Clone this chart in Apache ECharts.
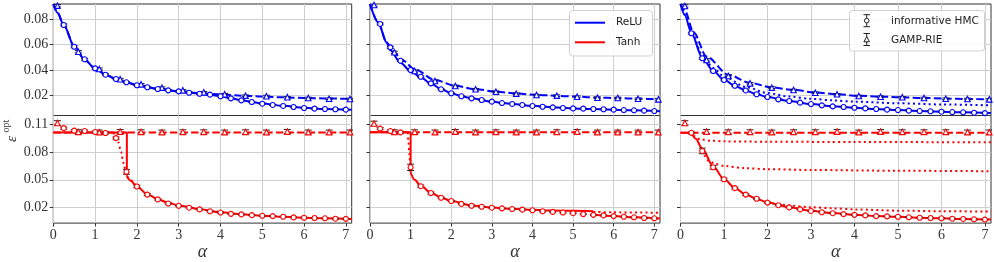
<!DOCTYPE html>
<html><head><meta charset="utf-8">
<script src="https://cdn.jsdelivr.net/npm/echarts@6/dist/echarts.min.js"></script>
<style>html,body{margin:0;padding:0;background:#fff}#c{width:994px;height:262px}</style>
</head><body><div id="c"></div>
<script>
// ---------- tick labels ----------
const xTicks = [0, 1, 2, 3, 4, 5, 6, 7];
const yTicksTop = [0.02, 0.04, 0.06, 0.08];
const yTicksBot = [0.02, 0.05, 0.08, 0.11];

// ---------- marker positions ----------
const hmcAlpha = [0.25,0.5,0.75,1,1.25,1.5,1.75,2,2.25,2.5,2.75,3,3.25,3.5,3.75,4,4.25,4.5,4.75,5,5.25,5.5,5.75,6,6.25,6.5,6.75,7];
const gampAlpha = [0.1,0.6,1.1,1.6,2.1,2.6,3.1,3.6,4.1,4.6,5.1,5.6,6.1,6.6,7.1];

// ---------- panel 1 (left) ----------
const hmc1T = [0.0753,0.0582,0.0483,0.0412,0.0362,0.0328,0.0302,0.0279,0.0263,0.0249,0.0239,0.0231,0.0220,0.0212,0.0205,0.0192,0.0176,0.0160,0.0147,0.0134,0.0124,0.0116,0.0108,0.0100,0.0095,0.0092,0.0090,0.0087];
const hmc1TErr = [0.0008,0.0008,0.0007,0.0006,0.0005,0.0005,0.0005,0.0004,0.0004,0.0004,0.0004,0.0004,0.0004,0.0004,0.0004,0.0004,0.0004,0.0004,0.0004,0.0004,0.0004,0.0004,0.0004,0.0004,0.0004,0.0004,0.0004,0.0004];
const gamp1T = [0.0905,0.0543,0.0407,0.0326,0.0286,0.0260,0.0239,0.0223,0.0208,0.0197,0.0192,0.0184,0.0179,0.0173,0.0171];
const gamp1TErr = [0.0010,0.0009,0.0008,0.0007,0.0007,0.0006,0.0006,0.0006,0.0006,0.0006,0.0008,0.0006,0.0006,0.0006,0.0006];
const solid1T = [[0,0.0918],[0.1,0.085],[0.25,0.0753],[0.5,0.0585],[0.75,0.048],[1,0.0411],[1.25,0.0362],[1.5,0.0328],[1.75,0.0302],[2,0.028],[2.5,0.025],[3,0.023],[3.5,0.0213],[3.75,0.0205],[4,0.0193],[4.25,0.0177],[4.5,0.0161],[4.75,0.0148],[5,0.0136],[5.5,0.0117],[6,0.0101],[6.5,0.0093],[7.14,0.0087]];
const dashed1T = [[0,0.0918],[0.1,0.085],[0.25,0.0753],[0.5,0.0585],[0.75,0.048],[1,0.0411],[1.25,0.0362],[1.5,0.0328],[1.75,0.0302],[2,0.028],[2.5,0.0252],[3,0.0232],[3.5,0.0217],[4,0.0206],[4.5,0.0197],[5,0.019],[5.5,0.0184],[6,0.0179],[6.5,0.0175],[7.14,0.0171]];
const hmc1B = [0.1055,0.1028,0.1024,0.1013,0.1003,0.0948,0.0586,0.0428,0.0341,0.0289,0.0245,0.0221,0.0200,0.0182,0.0162,0.0148,0.0134,0.0128,0.0120,0.0113,0.0110,0.0103,0.0096,0.0092,0.0089,0.0086,0.0082,0.0080];
const hmc1BErr = [0.0012,0.0010,0.0010,0.0010,0.0010,0.0012,0.0026,0.0012,0.0010,0.0008,0.0006,0.0005,0.0005,0.0005,0.0005,0.0005,0.0005,0.0005,0.0005,0.0005,0.0005,0.0005,0.0005,0.0005,0.0005,0.0005,0.0005,0.0005];
const gamp1B = [0.1110,0.1015,0.1012,0.1018,0.1015,0.1012,0.1015,0.1015,0.1012,0.1015,0.1012,0.1018,0.1012,0.1012,0.1012];
const gamp1BErr = [0.0025,0.0022,0.0022,0.0022,0.0022,0.0022,0.0022,0.0022,0.0022,0.0022,0.0022,0.0022,0.0022,0.0022,0.0022];
const step1B = [[0,0.1007],[1.76,0.1007],[1.76,0.0545]];
const solid1B = [[1.76,0.0545],[1.85,0.049],[2,0.0428],[2.25,0.0345],[2.5,0.0292],[2.75,0.0252],[3,0.0224],[3.5,0.0184],[4,0.0152],[4.5,0.013],[5,0.0114],[5.5,0.0102],[6,0.0093],[6.5,0.0086],[7.14,0.0079]];
const dashed1B = [[0,0.1007],[7.14,0.1007]];
const dotted1B = [[1.44,0.1007],[1.5,0.097],[1.56,0.09],[1.62,0.08],[1.68,0.068],[1.74,0.057],[1.8,0.051],[2,0.0428]];

// ---------- panel 2 (middle) ----------
const hmc2T = [0.0761,0.0577,0.0472,0.0399,0.0346,0.0294,0.0247,0.0216,0.0192,0.0176,0.0163,0.0150,0.0139,0.0132,0.0124,0.0116,0.0110,0.0105,0.0100,0.0097,0.0095,0.0092,0.0090,0.0087,0.0084,0.0082,0.0079,0.0076];
const hmc2TErr = [0.0008,0.0008,0.0007,0.0006,0.0005,0.0005,0.0005,0.0004,0.0004,0.0004,0.0004,0.0004,0.0004,0.0004,0.0004,0.0004,0.0004,0.0004,0.0004,0.0004,0.0004,0.0004,0.0004,0.0004,0.0004,0.0004,0.0004,0.0004];
const gamp2T = [0.0910,0.0538,0.0391,0.0312,0.0273,0.0247,0.0228,0.0213,0.0202,0.0197,0.0189,0.0181,0.0179,0.0173,0.0168];
const gamp2TErr = [0.0010,0.0009,0.0008,0.0007,0.0007,0.0006,0.0006,0.0006,0.0006,0.0006,0.0006,0.0006,0.0006,0.0006,0.0006];
const solid2T = [[0,0.0918],[0.2,0.0775],[0.41,0.0615],[0.5,0.0555],[0.75,0.0455],[1,0.039],[1.25,0.034],[1.5,0.0293],[1.75,0.0250],[2,0.0217],[2.25,0.0193],[2.5,0.0176],[3,0.015],[3.5,0.0132],[4,0.0117],[4.5,0.0105],[5,0.0097],[5.5,0.0092],[6,0.0087],[6.5,0.0082],[7.14,0.0075]];
const dashed2T = [[0,0.0918],[0.2,0.0775],[0.41,0.0615],[0.6,0.0535],[0.8,0.0475],[1.1,0.0405],[1.6,0.032],[2.1,0.0275],[2.6,0.0248],[3.1,0.0229],[3.6,0.0214],[4.1,0.0203],[4.6,0.0196],[5.1,0.0189],[5.6,0.0182],[6.1,0.0178],[6.6,0.0173],[7.14,0.0168]];
const hmc2B = [0.1050,0.1024,0.1010,0.0634,0.0431,0.0358,0.0307,0.0272,0.0241,0.0221,0.0210,0.0200,0.0193,0.0186,0.0179,0.0172,0.0162,0.0155,0.0148,0.0141,0.0131,0.0123,0.0117,0.0110,0.0103,0.0097,0.0089,0.0086];
const hmc2BErr = [0.0012,0.0010,0.0010,0.0034,0.0012,0.0010,0.0008,0.0006,0.0005,0.0005,0.0005,0.0005,0.0005,0.0005,0.0005,0.0005,0.0005,0.0005,0.0005,0.0005,0.0005,0.0005,0.0005,0.0005,0.0005,0.0005,0.0005,0.0005];
const gamp2B = [0.1105,0.1015,0.1015,0.1012,0.1018,0.1012,0.1015,0.1012,0.1012,0.1015,0.1018,0.1012,0.1012,0.1012,0.1012];
const gamp2BErr = [0.0025,0.0022,0.0022,0.0022,0.0022,0.0022,0.0022,0.0022,0.0022,0.0022,0.0022,0.0022,0.0022,0.0022,0.0022];
const step2B = [[0,0.1010],[1.0,0.1010],[1.0,0.058]];
const solid2B = [[1.0,0.058],[1.1,0.05],[1.25,0.0435],[1.5,0.036],[1.75,0.031],[2,0.0272],[2.5,0.0225],[3,0.0202],[3.5,0.0188],[4,0.0177],[4.5,0.0170],[5,0.0166],[5.5,0.0163]];
const solid2Btail = [[5.5,0.0123],[6,0.0110],[6.5,0.0097],[7.14,0.0085]];
const dashed2B = [[0,0.1010],[7.14,0.1010]];
const dotted2B = [[0.93,0.1010],[0.95,0.09],[0.97,0.078],[0.99,0.066],[1.0,0.058]];
const dotted2Btail = [[5.5,0.0155],[6,0.0150],[7.14,0.0146]];

// ---------- panel 3 (right) ----------
const hmc3T = [0.0688,0.0491,0.0391,0.0320,0.0275,0.0238,0.0208,0.0186,0.0168,0.0155,0.0142,0.0131,0.0121,0.0113,0.0108,0.0102,0.0097,0.0092,0.0087,0.0084,0.0079,0.0076,0.0074,0.0071,0.0068,0.0066,0.0063,0.0060];
const hmc3TErr = [0.0008,0.0008,0.0007,0.0006,0.0005,0.0005,0.0005,0.0004,0.0004,0.0004,0.0004,0.0004,0.0004,0.0004,0.0004,0.0004,0.0004,0.0004,0.0004,0.0004,0.0004,0.0004,0.0004,0.0004,0.0004,0.0004,0.0004,0.0004];
const gamp3T = [0.0902,0.0478,0.0352,0.0294,0.0260,0.0242,0.0220,0.0208,0.0194,0.0189,0.0184,0.0179,0.0173,0.0171,0.0168];
const gamp3TErr = [0.0010,0.0009,0.0008,0.0007,0.0007,0.0006,0.0006,0.0006,0.0006,0.0006,0.0006,0.0006,0.0006,0.0006,0.0006];
const solid3T = [[0,0.0918],[0.1,0.083],[0.25,0.069],[0.5,0.0495],[0.75,0.0392],[1,0.0322],[1.25,0.0274],[1.5,0.0238],[1.75,0.0208],[2,0.0186],[2.5,0.0155],[3,0.0131],[3.5,0.0114],[4,0.0102],[4.5,0.0092],[5,0.0084],[5.5,0.0077],[6,0.0071],[6.5,0.0066],[7.14,0.006]];
const dotted3T = [[0,0.0918],[0.1,0.0835],[0.25,0.0705],[0.5,0.0515],[0.75,0.0415],[1,0.0348],[1.5,0.0265],[2,0.0218],[2.5,0.019],[3,0.0172],[3.5,0.016],[4,0.015],[5,0.0137],[6,0.0128],[7.14,0.0121]];
const dashed3T = [[0,0.0918],[0.1,0.0865],[0.3,0.0695],[0.6,0.0505],[1.1,0.0362],[1.6,0.0298],[2.1,0.0262],[2.6,0.0242],[3.1,0.0222],[3.6,0.0208],[4.1,0.0196],[4.6,0.0189],[5.1,0.0184],[5.6,0.0179],[6.1,0.0174],[6.6,0.0171],[7.14,0.0167]];
const hmc3B = [0.1005,0.0810,0.0634,0.0506,0.0410,0.0341,0.0296,0.0255,0.0227,0.0203,0.0182,0.0165,0.0151,0.0141,0.0131,0.0123,0.0117,0.0110,0.0107,0.0103,0.0097,0.0092,0.0089,0.0086,0.0082,0.0079,0.0076,0.0072];
const hmc3BErr = [0.0010,0.0030,0.0020,0.0012,0.0010,0.0008,0.0006,0.0005,0.0005,0.0005,0.0005,0.0005,0.0005,0.0005,0.0005,0.0005,0.0005,0.0005,0.0005,0.0005,0.0005,0.0005,0.0005,0.0005,0.0005,0.0005,0.0005,0.0005];
const gamp3B = [0.1110,0.1018,0.1015,0.1015,0.1012,0.1015,0.1015,0.1018,0.1012,0.1018,0.1015,0.1015,0.1015,0.1012,0.1012];
const gamp3BErr = [0.0025,0.0022,0.0022,0.0022,0.0022,0.0022,0.0022,0.0022,0.0022,0.0022,0.0022,0.0022,0.0022,0.0022,0.0022];
const solid3B = [[0,0.1005],[0.15,0.1005],[0.25,0.099],[0.35,0.094],[0.5,0.0835],[0.75,0.0645],[1,0.0508],[1.25,0.0412],[1.5,0.0343],[1.75,0.0294],[2,0.0257],[2.5,0.0205],[3,0.0167],[3.5,0.0142],[4,0.0124],[4.5,0.0111],[5,0.0102],[5.5,0.0093],[6,0.0086],[6.5,0.0079],[7.14,0.0072]];
const dashed3B = [[0,0.1005],[7.14,0.1005]];
const dotted3Ba = [[0.2,0.1005],[0.3,0.097],[0.45,0.0935],[0.7,0.092],[1,0.0913],[2,0.0909],[4,0.0906],[7.14,0.0903]];
const dotted3Bb = [[0.55,0.0765],[0.65,0.0705],[0.8,0.067],[1.0,0.0648],[1.5,0.0625],[2,0.0614],[3,0.0605],[5,0.0597],[7.14,0.0592]];
const dotted3Bc = [[2.0,0.0257],[2.25,0.0237],[2.5,0.0223],[3,0.0205],[3.5,0.0193],[4,0.0182],[5,0.0168],[6,0.0162],[7.14,0.0158]];

// ---------- layout ----------
const BLUE = '#0000ff', RED = '#ff0000';
const colLeft = [53.3, 370, 680.5];
const colWidth = [298.4, 290, 310.5];
const rowTop = [4, 115.5];
const rowHeight = [111.5, 111.8];
const yRange = [[0.0041, 0.0918], [0.00345, 0.1191]];
const X_MAX = 7.14;
const serif = '"Liberation Serif", "DejaVu Serif", serif';
const sans = '"DejaVu Sans", sans-serif';

const grids = [], xAxes = [], yAxes = [], series = [];
for (let r = 0; r < 2; r++) {
  for (let c = 0; c < 3; c++) {
    const gi = grids.length;
    grids.push({left: colLeft[c], top: rowTop[r], width: colWidth[c], height: rowHeight[r],
      show: true, borderColor: '#333', borderWidth: 1, backgroundColor: 'transparent', containLabel: false});
    xAxes.push({type: 'value', gridIndex: gi, min: 0, max: X_MAX,
      axisLine: {show: false},
      axisTick: {show: r === 1, inside: false, length: 3.5, customValues: xTicks, lineStyle: {color: '#333'}},
      axisLabel: {show: r === 1, customValues: xTicks, fontFamily: serif, fontSize: 14, color: '#333', margin: 5},
      splitLine: {show: true, lineStyle: {color: '#cfcfcf', width: 1}},
      name: r === 1 ? 'α' : '', nameLocation: 'middle', nameGap: 17,
      nameTextStyle: {fontFamily: serif, fontStyle: 'italic', fontSize: 18, color: '#333'}});
    const yt = r === 0 ? yTicksTop : yTicksBot;
    yAxes.push({type: 'value', gridIndex: gi, min: yRange[r][0], max: yRange[r][1],
      axisLine: {show: false},
      axisTick: {show: true, inside: false, length: 3.5, customValues: yt, lineStyle: {color: '#333'}},
      axisLabel: {show: c === 0, customValues: yt, fontFamily: serif, fontSize: 14, color: '#333', margin: 5,
        formatter: v => String(+v.toFixed(2))},
      splitLine: {show: true, lineStyle: {color: '#cfcfcf', width: 1}}});
  }
}

function addLine(gi, data, color, kind, smooth) {
  const dash = kind === 'dashed' ? [7.4, 3.2] : kind === 'dotted' ? [2, 3.2] : 'solid';
  series.push({type: 'line', xAxisIndex: gi, yAxisIndex: gi, data: data, showSymbol: false, symbol: 'none',
    smooth: smooth ? 0.3 : false, smoothMonotone: smooth ? 'x' : undefined, z: 2, silent: true,
    lineStyle: {color: color, width: 2, type: dash, cap: 'butt'}});
}
function errRender(params, api) {
  const x = api.value(0), y = api.value(1), e = api.value(2);
  const p1 = api.coord([x, y + e]), p2 = api.coord([x, y - e]);
  const w = 3.5, st = {stroke: '#222', lineWidth: 1};
  return {type: 'group', children: [
    {type: 'line', shape: {x1: p1[0], y1: p1[1], x2: p2[0], y2: p2[1]}, style: st},
    {type: 'line', shape: {x1: p1[0] - w, y1: p1[1], x2: p1[0] + w, y2: p1[1]}, style: st},
    {type: 'line', shape: {x1: p2[0] - w, y1: p2[1], x2: p2[0] + w, y2: p2[1]}, style: st}]};
}
function addMarkers(gi, xs, ys, errs, color, symbol, size) {
  series.push({type: 'custom', xAxisIndex: gi, yAxisIndex: gi, renderItem: errRender, clip: true, z: 3, silent: true,
    encode: {x: 0, y: 1}, data: xs.map((x, i) => [x, ys[i], errs[i]])});
  series.push({type: 'scatter', xAxisIndex: gi, yAxisIndex: gi, symbol: symbol, symbolSize: size, z: 4, silent: true, clip: true,
    itemStyle: {color: '#fff', borderColor: color, borderWidth: 1.1, opacity: 1},
    data: xs.map((x, i) => [x, ys[i]])});
}

// panel 1
addLine(0, solid1T, BLUE, 'solid', true); addLine(0, dashed1T, BLUE, 'dashed', true);
addMarkers(0, gampAlpha, gamp1T, gamp1TErr, BLUE, 'triangle', 5.5);
addMarkers(0, hmcAlpha, hmc1T, hmc1TErr, BLUE, 'circle', 5);
addLine(3, dashed1B, RED, 'dashed', false); addLine(3, dotted1B, RED, 'dotted', true);
addLine(3, step1B, RED, 'solid', false); addLine(3, solid1B, RED, 'solid', true);
addMarkers(3, gampAlpha, gamp1B, gamp1BErr, RED, 'triangle', 5.5);
addMarkers(3, hmcAlpha, hmc1B, hmc1BErr, RED, 'circle', 5);
// panel 2
addLine(1, solid2T, BLUE, 'solid', true); addLine(1, dashed2T, BLUE, 'dashed', true);
addMarkers(1, gampAlpha, gamp2T, gamp2TErr, BLUE, 'triangle', 5.5);
addMarkers(1, hmcAlpha, hmc2T, hmc2TErr, BLUE, 'circle', 5);
addLine(4, dashed2B, RED, 'dashed', false); addLine(4, dotted2B, RED, 'dotted', true); addLine(4, dotted2Btail, RED, 'dotted', true);
addLine(4, step2B, RED, 'solid', false); addLine(4, solid2B, RED, 'solid', true); addLine(4, solid2Btail, RED, 'solid', true);
addMarkers(4, gampAlpha, gamp2B, gamp2BErr, RED, 'triangle', 5.5);
addMarkers(4, hmcAlpha, hmc2B, hmc2BErr, RED, 'circle', 5);
// panel 3
addLine(2, dotted3T, BLUE, 'dotted', true); addLine(2, solid3T, BLUE, 'solid', true); addLine(2, dashed3T, BLUE, 'dashed', true);
addMarkers(2, gampAlpha, gamp3T, gamp3TErr, BLUE, 'triangle', 5.5);
addMarkers(2, hmcAlpha, hmc3T, hmc3TErr, BLUE, 'circle', 5);
addLine(5, dashed3B, RED, 'dashed', false);
addLine(5, dotted3Ba, RED, 'dotted', true); addLine(5, dotted3Bb, RED, 'dotted', true); addLine(5, dotted3Bc, RED, 'dotted', true);
addLine(5, solid3B, RED, 'solid', true);
addMarkers(5, gampAlpha, gamp3B, gamp3BErr, RED, 'triangle', 5.5);
addMarkers(5, hmcAlpha, hmc3B, hmc3BErr, RED, 'circle', 5);

// ---------- legends & y title (graphic) ----------
const capStyle = {stroke: '#222', lineWidth: 1};
const graphic = [
  {type: 'rect', shape: {x: 569.5, y: 10.5, width: 83, height: 45.5, r: 3}, style: {fill: 'rgba(255,255,255,0.85)', stroke: '#d0d0d0', lineWidth: 1}, z: 10},
  {type: 'line', shape: {x1: 575, y1: 22.7, x2: 605, y2: 22.7}, style: {stroke: BLUE, lineWidth: 2}, z: 11},
  {type: 'text', x: 616, y: 22.7, style: {text: 'ReLU', fontFamily: sans, fontSize: 10.5, fill: '#222', verticalAlign: 'middle'}, z: 11},
  {type: 'line', shape: {x1: 575, y1: 42.3, x2: 605, y2: 42.3}, style: {stroke: RED, lineWidth: 2}, z: 11},
  {type: 'text', x: 616, y: 42.3, style: {text: 'Tanh', fontFamily: sans, fontSize: 10.5, fill: '#222', verticalAlign: 'middle'}, z: 11},

  {type: 'rect', shape: {x: 849.5, y: 10.5, width: 135, height: 40.5, r: 3}, style: {fill: 'rgba(255,255,255,0.85)', stroke: '#d0d0d0', lineWidth: 1}, z: 10},
  {type: 'line', shape: {x1: 866.7, y1: 14.7, x2: 866.7, y2: 26.7}, style: capStyle, z: 11},
  {type: 'line', shape: {x1: 863.5, y1: 14.7, x2: 870, y2: 14.7}, style: capStyle, z: 11},
  {type: 'line', shape: {x1: 863.5, y1: 26.7, x2: 870, y2: 26.7}, style: capStyle, z: 11},
  {type: 'circle', shape: {cx: 866.7, cy: 20.7, r: 2.3}, style: {fill: '#fff', stroke: '#222', lineWidth: 1}, z: 12},
  {type: 'text', x: 891, y: 21.2, style: {text: 'informative HMC', fontFamily: sans, fontSize: 10.5, fill: '#222', verticalAlign: 'middle'}, z: 11},
  {type: 'line', shape: {x1: 866.7, y1: 33.5, x2: 866.7, y2: 45.5}, style: capStyle, z: 11},
  {type: 'line', shape: {x1: 863.5, y1: 33.5, x2: 870, y2: 33.5}, style: capStyle, z: 11},
  {type: 'line', shape: {x1: 863.5, y1: 45.5, x2: 870, y2: 45.5}, style: capStyle, z: 11},
  {type: 'polygon', shape: {points: [[866.7, 36.6], [869.5, 41.8], [863.9, 41.8]]}, style: {fill: '#fff', stroke: '#222', lineWidth: 1}, z: 12},
  {type: 'text', x: 891, y: 39.8, style: {text: 'GAMP-RIE', fontFamily: sans, fontSize: 10.5, fill: '#222', verticalAlign: 'middle'}, z: 11},

  {type: 'text', x: 12, y: 139, rotation: Math.PI / 2, style: {text: 'ε', fontFamily: serif, fontStyle: 'italic', fontSize: 15, fill: '#333', align: 'center', verticalAlign: 'middle'}},
  {type: 'text', x: 6, y: 126, rotation: Math.PI / 2, style: {text: 'opt', fontFamily: serif, fontSize: 10, fill: '#333', align: 'center', verticalAlign: 'middle'}}
];

const chart = echarts.init(document.getElementById('c'), null, {renderer: 'canvas'});
chart.setOption({animation: false, grid: grids, xAxis: xAxes, yAxis: yAxes, series: series, graphic: graphic});
</script></body></html>
